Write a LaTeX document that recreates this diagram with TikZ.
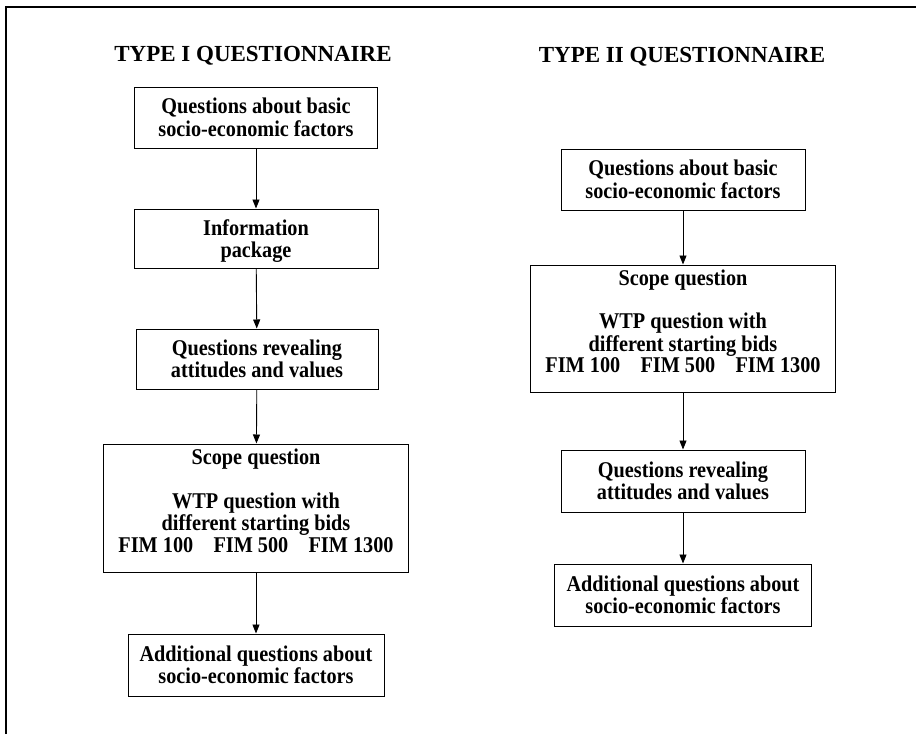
\documentclass[tikz,border=0pt]{standalone}
\usepackage{fontspec}
\setmainfont{Liberation Serif}
\usetikzlibrary{arrows.meta}
\newcommand\qlines[2][-3pt]{\raisebox{#1}[\height][\depth]{%
  \scalebox{0.9}[1]{\begin{tabular}{@{}c@{}}#2\end{tabular}}}}

\begin{document}
\begin{tikzpicture}[x=1pt,y=-1pt,
    qbox/.style={draw,line width=1pt,inner sep=0pt,
      font=\bfseries\fontsize{22.5}{21.5}\selectfont},
    qtitle/.style={anchor=base,font=\bfseries\fontsize{23}{26}\selectfont},
    flow/.style={-{Triangle[length=9pt,width=7pt]},line width=0.9pt}]
          \useasboundingbox (0,0) rectangle (916,734);
          \draw[line width=1.2pt] (6,734) -- (6,7) -- (916,7);

          \node[qtitle] (t1) at (253,61) {TYPE I QUESTIONNAIRE};
          \node[qtitle] (t2) at (682,62) {TYPE II QUESTIONNAIRE};

          \node[qbox,minimum width=243pt,minimum height=61pt] (a1) at (256,117.5)
            {\qlines{Questions about basic\\socio-economic factors}};
          \node[qbox,minimum width=244pt,minimum height=59pt] (a2) at (256,238.5)
            {\qlines{Information\\package}};
          \node[qbox,minimum width=242pt,minimum height=60pt] (a3) at (257,359)
            {\qlines{Questions revealing\\attitudes and values}};
          \node[qbox,minimum width=305pt,minimum height=128pt] (a4) at (256,508)
            {\qlines[4pt]{Scope question\\[21.5pt]WTP question with\\different starting bids\\FIM 100\quad FIM 500\quad FIM 1300}};
          \node[qbox,minimum width=256pt,minimum height=62pt] (a5) at (256,665)
            {\qlines{Additional questions about\\socio-economic factors}};

          \node[qbox,minimum width=244pt,minimum height=61pt] (b1) at (683,179.5)
            {\qlines{Questions about basic\\socio-economic factors}};
          \node[qbox,minimum width=305pt,minimum height=127pt] (b2) at (683,328.5)
            {\qlines[4pt]{Scope question\\[21.5pt]WTP question with\\different starting bids\\FIM 100\quad FIM 500\quad FIM 1300}};
          \node[qbox,minimum width=244pt,minimum height=62pt] (b3) at (683,481)
            {\qlines{Questions revealing\\attitudes and values}};
          \node[qbox,minimum width=257pt,minimum height=62pt] (b4) at (683,595)
            {\qlines{Additional questions about\\socio-economic factors}};

          \draw[flow] (a1) -- (a2);
          \draw[flow] (a2) -- (a3);
          \draw[flow] (a3) -- (a4);
          \draw[flow] (a4) -- (a5);

          \draw[flow] (b1) -- (b2);
          \draw[flow] (b2) -- (b3);
          \draw[flow] (b3) -- (b4);
        \end{tikzpicture}
\end{document}
